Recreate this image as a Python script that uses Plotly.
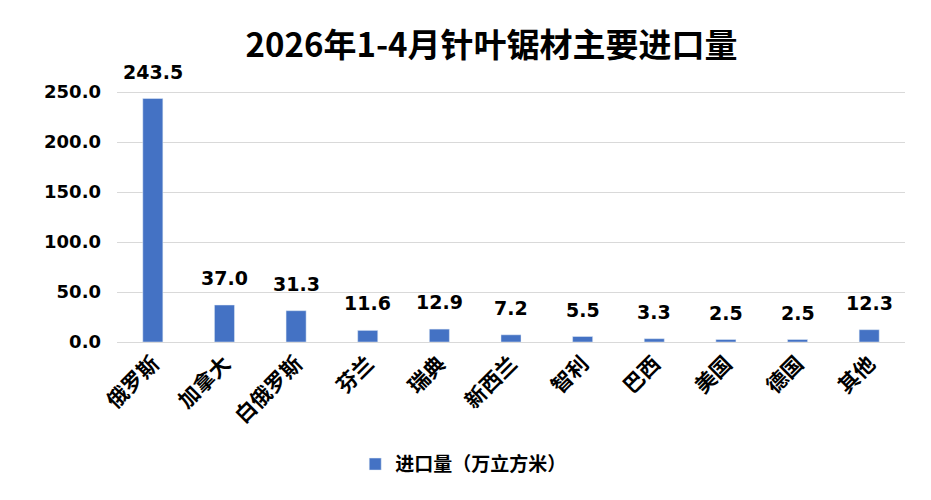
import plotly.graph_objects as go

categories = ["俄罗斯", "加拿大", "白俄罗斯", "芬兰", "瑞典", "新西兰", "智利", "巴西", "美国", "德国", "其他"]
values = [243.5, 37.0, 31.3, 11.6, 12.9, 7.2, 5.5, 3.3, 2.5, 2.5, 12.3]
series_name = "进口量（万立方米）"
title_text = "2026年1-4月针叶锯材主要进口量"

FONT = "Noto Sans CJK SC"
NUMFONT = "DejaVu Sans"

fig = go.Figure()
fig.add_trace(go.Bar(
    x=categories, y=values, name=series_name,
    marker=dict(color="#4472C4"),
    width=0.28,
))

for c, v in zip(categories, values):
    fig.add_annotation(x=c, y=v, text=f"{v:.1f}", showarrow=False,
                       yanchor="bottom", yshift=14,
                       font=dict(family=NUMFONT, size=19, color="#000", weight="bold"))

fig.update_layout(
    width=931, height=500,
    margin=dict(l=117, r=26, t=82, b=158),
    paper_bgcolor="white", plot_bgcolor="white",
    title=dict(text=title_text, x=0.528, xanchor="center", y=0.91, yanchor="middle",
               font=dict(family=FONT, size=33, color="#000", weight="bold")),
    showlegend=True,
    legend=dict(orientation="h", x=0.44, xanchor="center", y=-0.47, yanchor="middle",
                font=dict(family=FONT, size=19, color="#000", weight="bold")),
    font=dict(family=FONT),
)
fig.update_yaxes(range=[0, 260], tickvals=[0, 50, 100, 150, 200, 250], tickformat=".1f",
                 showgrid=True, gridcolor="#d9d9d9", gridwidth=1, zeroline=False,
                 showline=False, ticks="", ticklabelstandoff=15,
                 tickfont=dict(family=NUMFONT, size=18, color="#000", weight="bold"))
fig.update_xaxes(showline=True, linecolor="#d9d9d9", linewidth=1, ticks="", tickangle=-45,
                 tickfont=dict(family=FONT, size=21, color="#000", weight="bold"))

fig.write_html("out.html")
